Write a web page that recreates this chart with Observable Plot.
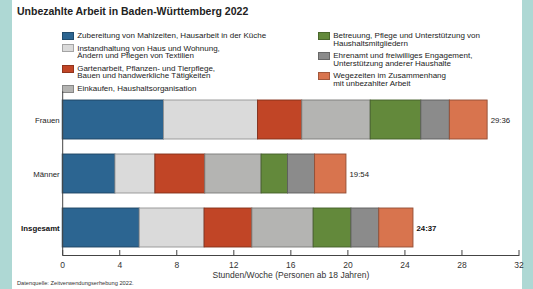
<!DOCTYPE html>
<html>
<head>
<meta charset="utf-8">
<script src="https://cdn.jsdelivr.net/npm/d3@7"></script>
<script src="https://cdn.jsdelivr.net/npm/@observablehq/plot@0.6"></script>
<style>
  html, body { margin: 0; padding: 0; }
  body { width: 533px; height: 289px; background: #aed8d4; position: relative; overflow: hidden;
         font-family: "Liberation Sans", Arial, Helvetica, sans-serif; color: #222; }
  #panel { position: absolute; left: 12px; top: 0; width: 510px; height: 289px; background: #fff; }
  #title { position: absolute; left: 17px; top: 5px; font-size: 10.5px; font-weight: bold; color: #222; white-space: nowrap; }
  .legcol { position: absolute; top: 32px; display: flex; flex-direction: column; gap: 5px; }
  .legitem { display: flex; align-items: flex-start; font-size: 8px; line-height: 7.6px; white-space: pre; color: #222; }
  .sw { width: 12px; height: 8px; margin-right: 3.5px; flex: none; box-sizing: border-box; margin-top: -0.3px; }
  #chart { position: absolute; left: 0; top: 88px; }
  #caption { position: absolute; left: 17px; top: 280px; font-size: 5.7px; color: #333; white-space: nowrap; }
</style>
</head>
<body>
<div id="panel"></div>
<div id="title"></div>
<div class="legcol" id="leg1" style="left:61.7px"></div>
<div class="legcol" id="leg2" style="left:317.7px"></div>
<div id="chart"></div>
<div id="caption"></div>
<script>
const titleText = "Unbezahlte Arbeit in Baden-Württemberg 2022";
const captionText = "Datenquelle: Zeitverwendungserhebung 2022.";
const axisLabel = "Stunden/Woche (Personen ab 18 Jahren)";

const categories = ["Frauen", "Männer", "Insgesamt"];
const activities = [
  "Zubereitung von Mahlzeiten, Hausarbeit in der Küche",
  "Instandhaltung von Haus und Wohnung,\nÄndern und Pflegen von Textilien",
  "Gartenarbeit, Pflanzen- und Tierpflege,\nBauen und handwerkliche Tätigkeiten",
  "Einkaufen, Haushaltsorganisation",
  "Betreuung, Pflege und Unterstützung von\nHaushaltsmitgliedern",
  "Ehrenamt und freiwilliges Engagement,\nUnterstützung anderer Haushalte",
  "Wegezeiten im Zusammenhang\nmit unbezahlter Arbeit"
];
const colors = ["#2c6591", "#dadada", "#c14526", "#b4b4b2", "#63893b", "#8b8b8b", "#d8744e"];

const frauen    = [7.1, 6.6, 3.1, 4.8, 3.55, 2.0, 2.65];
const maenner   = [3.7, 2.8, 3.5, 3.95, 1.85, 1.9, 2.2];
const insgesamt = [5.4, 4.55, 3.35, 4.3, 2.65, 1.95, 2.4];
const totalLabels = ["29:36", "19:54", "24:37"];
const xTicks = [0, 4, 8, 12, 16, 20, 24, 28, 32];

// title, caption
document.getElementById("title").textContent = titleText;
document.getElementById("caption").textContent = captionText;

// legend (HTML)
const legCols = [document.getElementById("leg1"), document.getElementById("leg2")];
activities.forEach((a, i) => {
  const item = document.createElement("div");
  item.className = "legitem";
  const sw = document.createElement("span");
  sw.className = "sw";
  sw.style.background = colors[i];
  sw.style.border = "0.8px solid " + d3.color(colors[i]).darker(0.8);
  const t = document.createElement("span");
  t.textContent = a;
  item.appendChild(sw); item.appendChild(t);
  legCols[i < 4 ? 0 : 1].appendChild(item);
});

// data table
const series = [frauen, maenner, insgesamt];
const rows = [];
categories.forEach((c, ci) => {
  series[ci].forEach((v, ai) => {
    rows.push({cat: c, act: activities[ai], value: v,
               fill: colors[ai], stroke: d3.color(colors[ai]).darker(1.1).formatHex()});
  });
});
const totals = categories.map((c, ci) => ({cat: c, total: d3.sum(series[ci]), label: totalLabels[ci]}));

const W = 533, H = 192, mTop = 3.4, mBottom = 25, mLeft = 62.2, mRight = 14.5;
const frameH = H - mTop - mBottom;

const chart = Plot.plot({
  width: W, height: H,
  marginTop: mTop, marginBottom: mBottom, marginLeft: mLeft, marginRight: mRight,
  style: {background: "transparent", fontFamily: "'Liberation Sans', Arial, Helvetica, sans-serif", color: "#333"},
  x: {domain: [0, 32]},
  y: {domain: categories, paddingInner: 0.28, paddingOuter: 0.153, align: 0.5},
  marks: [
    Plot.barX(rows, Plot.stackX({x: "value", y: "cat", fill: "fill", stroke: "stroke", strokeWidth: 0.9})),
    Plot.ruleX([0], {stroke: "#444", strokeWidth: 1}),
    Plot.frame({anchor: "bottom", stroke: "#444", strokeWidth: 1}),
    Plot.tickX(xTicks, {x: d => d, insetTop: frameH - 5, stroke: "#444", strokeWidth: 1}),
    Plot.axisX({ticks: xTicks, tickSize: 0, tickPadding: 6, fontSize: 8.5, label: axisLabel,
                labelAnchor: "center", labelOffset: 22.5, labelArrow: "none"}),
    Plot.axisY({ticks: [], label: null}),
    Plot.text(categories.filter(c => c !== "Insgesamt"), {y: d => d, frameAnchor: "left", textAnchor: "end", dx: -3, fontSize: 7.8, fill: "#222"}),
    Plot.text(categories.filter(c => c === "Insgesamt"), {y: d => d, frameAnchor: "left", textAnchor: "end", dx: -3, fontSize: 7.8, fontWeight: "bold", fill: "#111"}),
    Plot.text(totals.filter(d => d.cat !== "Insgesamt"), {x: "total", y: "cat", text: "label", textAnchor: "start", dx: 3, fontSize: 7.8, fill: "#222"}),
    Plot.text(totals.filter(d => d.cat === "Insgesamt"), {x: "total", y: "cat", text: "label", textAnchor: "start", dx: 3, fontSize: 7.8, fontWeight: "bold", fill: "#111"})
  ]
});
document.getElementById("chart").appendChild(chart);
</script>
</body>
</html>
